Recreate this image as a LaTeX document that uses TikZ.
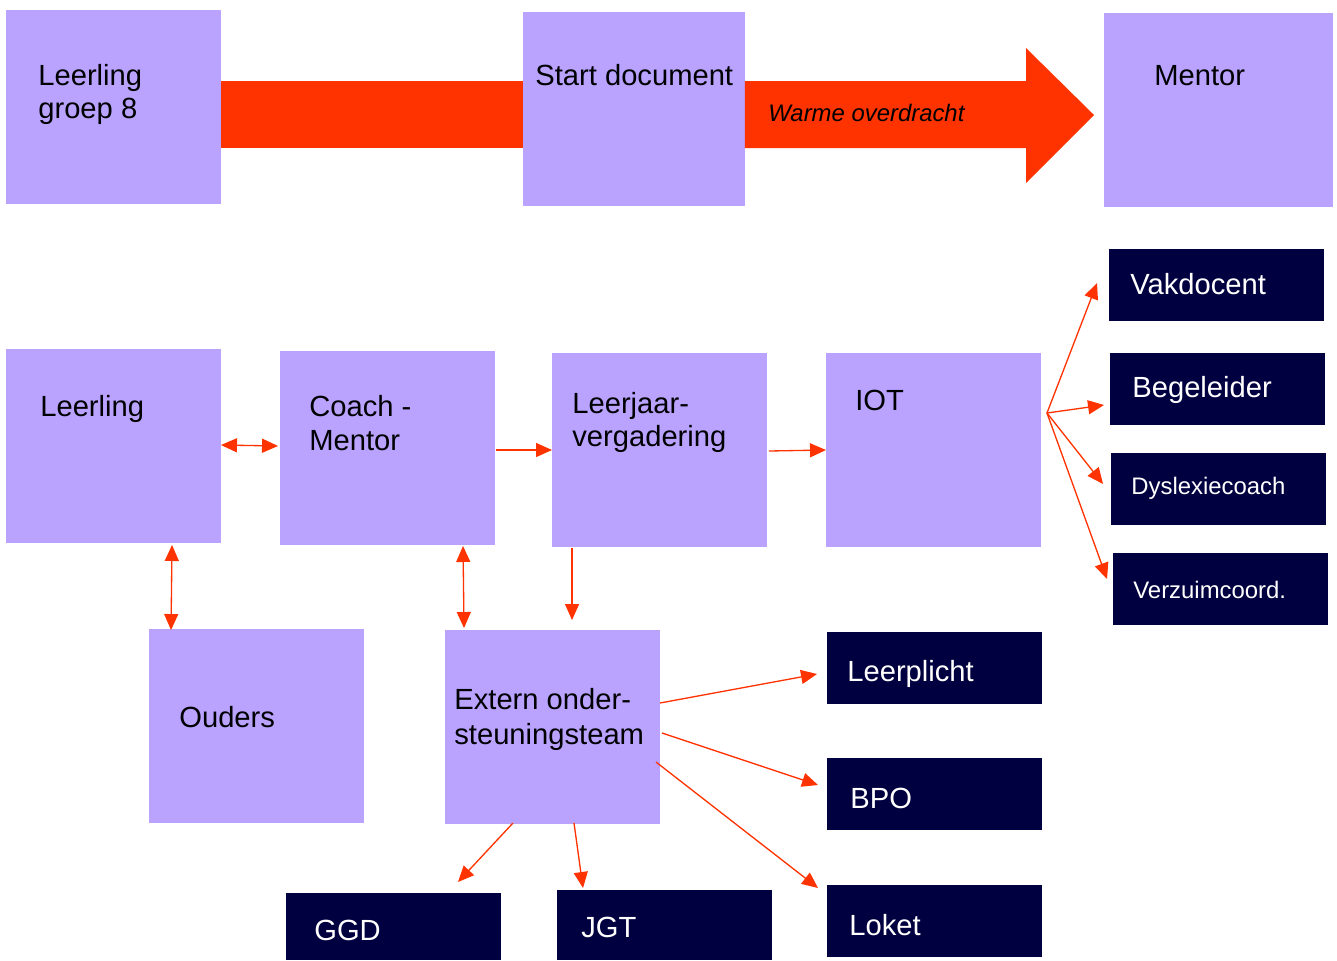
\documentclass[tikz,border=0pt]{standalone}
\usepackage{fontspec}
\setmainfont{Liberation Sans}
\usetikzlibrary{arrows.meta,calc}
\definecolor{lav}{RGB}{185,163,255}
\definecolor{navy}{RGB}{0,0,64}
\definecolor{arr}{RGB}{255,51,0}
\begin{document}
\begin{tikzpicture}[x=0.02cm,y=-0.02cm,
  lbox/.style={fill=lav, draw=none, inner sep=0pt, outer sep=0pt, minimum width=4.3cm, minimum height=3.88cm},
  dbox/.style={fill=navy, draw=none, inner sep=0pt, outer sep=0pt, minimum width=4.3cm, minimum height=1.44cm},
  txt/.style={anchor=base west, inner sep=0pt, font=\fontsize{16.6}{19}\selectfont},
  stxt/.style={anchor=base west, inner sep=0pt, font=\fontsize{13.6}{16}\selectfont},
  wtxt/.style={txt, text=white},
  swtxt/.style={stxt, text=white},
  conn/.style={draw=arr, line width=0.75pt, -{Triangle[length=0.32cm,width=0.28cm]}},
  biconn/.style={draw=arr, line width=0.75pt, {Triangle[length=0.32cm,width=0.28cm]}-{Triangle[length=0.32cm,width=0.28cm]}}
]
\useasboundingbox (0,0) rectangle (1337,960);
\fill[white] (0,0) rectangle (1337,960);

% top row
\node[lbox] (lg8) at (113.5,107) {};
\node[lbox, minimum width=4.44cm] (start) at (634,109) {};
\node[lbox, minimum width=4.58cm] (mentor) at (1218.5,110) {};
\fill[arr] (lg8.east |- 0,81) rectangle (start.west |- 0,148);
\fill[arr] (start.east |- 0,81) -- (1026,81) -- (1026,48) -- (1094,115) -- (1026,183) -- (1026,148) -- (start.east |- 0,148) -- cycle;
\node[txt] (t1a) at (38,85) {Leerling};
\node[txt] (t1b) at (38,118) {groep 8};
\node[txt] (t2) at (535,85) {Start document};
\node[txt] (t3) at (1154,85) {Mentor};
\node[stxt, font=\fontsize{13.6}{16}\selectfont\itshape] (t4) at (768,121) {Warme overdracht};

% middle row
\node[lbox] (leer) at (113.5,446) {};
\node[lbox] (coach) at (387.5,448) {};
\node[lbox] (ljv) at (659.5,450) {};
\node[lbox] (iot) at (933.5,450) {};
\node[txt] (t5) at (40,416) {Leerling};
\node[txt] (t6a) at (309,416) {Coach -};
\node[txt] (t6b) at (309,450) {Mentor};
\node[txt] (t7a) at (572,413) {Leerjaar-};
\node[txt] (t7b) at (572,446) {vergadering};
\node[txt] (t8) at (855,410) {IOT};

\node[dbox] (vak) at (1216.5,285) {};
\node[dbox] (beg) at (1217.5,389) {};
\node[dbox] (dys) at (1218.5,489) {};
\node[dbox] (verz) at (1220.5,589) {};
\node[wtxt] (t9) at (1130,294) {Vakdocent};
\node[wtxt] (t10) at (1132,397) {Begeleider};
\node[swtxt] (t11) at (1131,494) {Dyslexiecoach};
\node[swtxt] (t12) at (1133,598) {Verzuimcoord.};

% bottom
\node[lbox] (ouders) at (256.5,726) {};
\node[lbox] (ext) at (552.5,727) {};
\node[txt] (t13) at (179,727) {Ouders};
\node[txt] (t14a) at (454,709) {Extern onder-};
\node[txt] (t14b) at (454,744) {steuningsteam};

\node[dbox] (lp) at (934.5,668) {};
\node[dbox] (bpo) at (934.5,794) {};
\node[dbox] (loket) at (934.5,921) {};
\node[dbox, minimum height=1.34cm] (ggd) at (393.5,926.5) {};
\node[dbox, minimum height=1.4cm] (jgt) at (664.5,925) {};
\node[wtxt] (t15) at (847,681) {Leerplicht};
\node[wtxt] (t16) at (850,808) {BPO};
\node[wtxt] (t17) at (849,935) {Loket};
\node[wtxt] (t18) at (314,940) {GGD};
\node[wtxt] (t19) at (581,937) {JGT};

% connectors
\draw[biconn] ($(leer.east)+(0,-1)$) -- ($(coach.west)+(-2,-2)$);
\draw[conn] ($(coach.east)+(1,2)$) -- (ljv.west);
\draw[conn] ($(ljv.east)+(2,1)$) -- (iot.west);
\draw[biconn] ($(leer.south west)+(166,2)$) -- ($(ouders.north west)+(22,1)$);
\draw[biconn] ($(coach.south west)+(183,1)$) -- ($(ext.north west)+(19,-2)$);
\draw[conn] ($(ljv.south west)+(20,1)$) -- ($(ext.north west)+(127,-10)$);

\coordinate (fan) at ($(iot.east)+(6,-37)$);
\draw[conn] (fan) -- ($(vak.west)+(-12,-2)$);
\draw[conn] (fan) -- ($(beg.west)+(-6,16)$);
\draw[conn] (fan) -- ($(dys.west)+(-8,-5)$);
\draw[conn] (fan) -- ($(verz.west)+(-6,-10)$);

\draw[conn] ($(ext.east)+(0,-24)$) -- ($(lp.west)+(-10,6)$);
\draw[conn] ($(ext.east)+(2,6)$) -- ($(bpo.west)+(-9,-9)$);
\draw[conn] ($(ext.east)+(-4,35)$) -- ($(loket.west)+(-9,-33)$);
\draw[conn] ($(ext.south)+(-39.5,-1)$) -- ($(ggd.north)+(64.5,-11)$);
\draw[conn] ($(ext.south)+(21.5,-1)$) -- ($(jgt.north)+(-81.5,-2)$);
\end{tikzpicture}
\end{document}
